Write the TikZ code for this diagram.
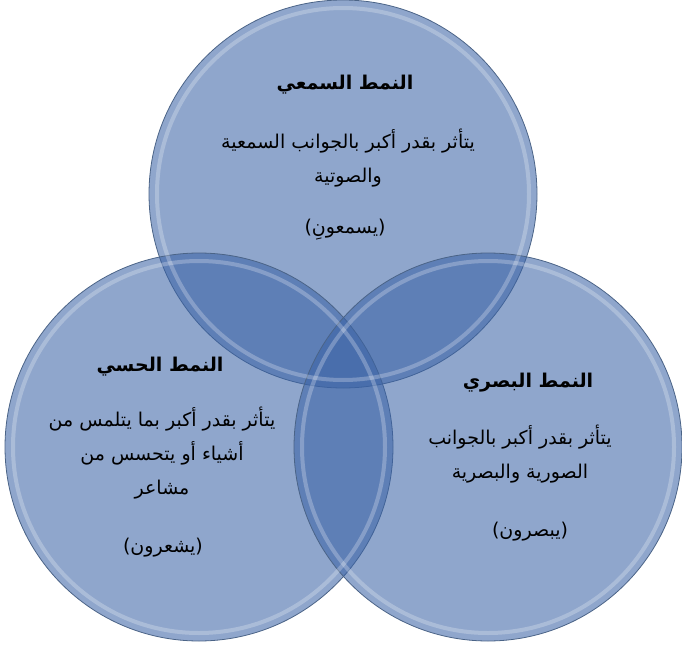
\documentclass[tikz,border=0pt]{standalone}
\usepackage{fontspec}
\newfontfamily\arabicfont[Script=Arabic]{DejaVu Sans}
\TeXXeTstate=1
\definecolor{vennblue}{RGB}{58,98,165}
\definecolor{venndraw}{RGB}{75,100,135}
\newcommand{\ar}[1]{\beginR #1\endR}
\tikzset{
  set/.style={circle, minimum size=388pt, inner sep=0pt, fill=vennblue, fill opacity=0.57, draw=venndraw, line width=0.8pt},
  rim/.style={circle, minimum size=372pt, inner sep=0pt, draw=white, draw opacity=0.25, line width=4pt},
  title/.style={font=\arabicfont\bfseries\fontsize{19}{22}\selectfont, align=center},
  body/.style={font=\arabicfont\fontsize{19}{34}\selectfont, align=center},
}
\begin{document}
\begin{tikzpicture}[x=1pt,y=-1pt]
\useasboundingbox (0,0) rectangle (682,647);
% the three sets
\node[set](aud) at (343,194) {};
\node[set](kin) at (199,447) {};
\node[set](vis) at (488,447) {};
\node[rim](audrim) at (aud) {};
\node[rim](kinrim) at (kin) {};
\node[rim](visrim) at (vis) {};
% auditory
\node[title](audT) at (345,85) {\ar{النمط السمعي}};
\node[body](audB) at (348,158) {\ar{يتأثر بقدر أكبر بالجوانب السمعية}\\\ar{والصوتية}};
\node[body](audP) at (345,230) {\ar{(يسمعونِ)}};
% kinesthetic
\node[title](kinT) at (160,367) {\ar{النمط الحسي}};
\node[body](kinB) at (162,453) {\ar{يتأثر بقدر أكبر بما يتلمس من}\\\ar{أشياء أو يتحسس من}\\\ar{مشاعر}};
\node[body](kinP) at (163,548) {\ar{(يشعرون)}};
% visual
\node[title](visT) at (528,383) {\ar{النمط البصري}};
\node[body](visB) at (520,454) {\ar{يتأثر بقدر أكبر بالجوانب}\\\ar{الصورية والبصرية}};
\node[body](visP) at (530,532) {\ar{(يبصرون)}};
\end{tikzpicture}
\end{document}
